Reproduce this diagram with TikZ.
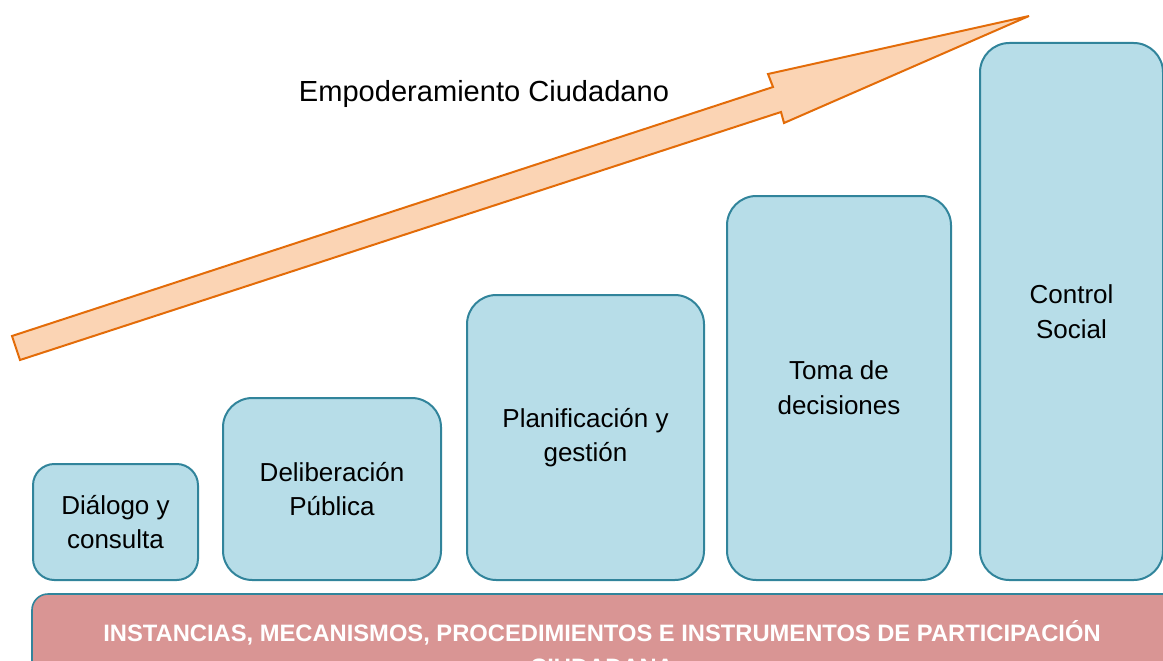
\documentclass[tikz,border=0pt]{standalone}
\usepackage{fontspec}
\setmainfont{Liberation Sans}

\definecolor{cajafondo}{HTML}{B7DDE8}
\definecolor{cajaborde}{HTML}{31849B}
\definecolor{flechafondo}{HTML}{FBD4B4}
\definecolor{flechaborde}{HTML}{E36C09}
\definecolor{barrafondo}{HTML}{D99594}

\tikzset{
  etapa/.style={draw=cajaborde, fill=cajafondo, line width=1.5pt,
    rounded corners=22pt, anchor=south west, align=center,
    font=\fontsize{19.5}{26}\selectfont, inner sep=0pt},
}

\begin{document}
\begin{tikzpicture}[x=0.75pt, y=-0.75pt]
    \useasboundingbox (0,0) rectangle (1163,660);

    % flecha de empoderamiento
    \draw[draw=flechaborde, fill=flechafondo, line width=1.5pt, line join=miter]
      (12,336) -- (773,87) -- (768,74) -- (1029,16) -- (784,123)
      -- (781,112) -- (20,360) -- cycle;
    \node (empoderamiento) at (484,94)
      {\fontsize{21.8}{26}\selectfont Empoderamiento Ciudadano};

    % escalones
    \node[etapa, rounded corners=16pt, minimum width=165*0.75pt,
      minimum height=116*0.75pt] (dialogo) at (32,581)
      {Diálogo y\\consulta};
    \node[etapa, minimum width=218*0.75pt, minimum height=182*0.75pt]
      (deliberacion) at (222,581) {Deliberación\\Pública};
    \node[etapa, minimum width=237*0.75pt, minimum height=285*0.75pt]
      (planificacion) at (466,581) {Planificación y\\gestión};
    \node[etapa, minimum width=224*0.75pt, minimum height=384*0.75pt]
      (decisiones) at (726,581) {Toma de\\decisiones};
    \node[etapa, minimum width=183*0.75pt, minimum height=537*0.75pt]
      (control) at (979,581) {Control\\Social};

    % base
    \draw[draw=cajaborde, fill=barrafondo, line width=1.2pt,
      rounded corners=12pt] (32,594) rectangle (1185,720);
    \node[text=white, align=center, font=\bfseries\fontsize{17.8}{25}\selectfont]
      (instancias) at (602,648)
      {INSTANCIAS, MECANISMOS, PROCEDIMIENTOS E INSTRUMENTOS DE PARTICIPACIÓN\\CIUDADANA};
\end{tikzpicture}
\end{document}
